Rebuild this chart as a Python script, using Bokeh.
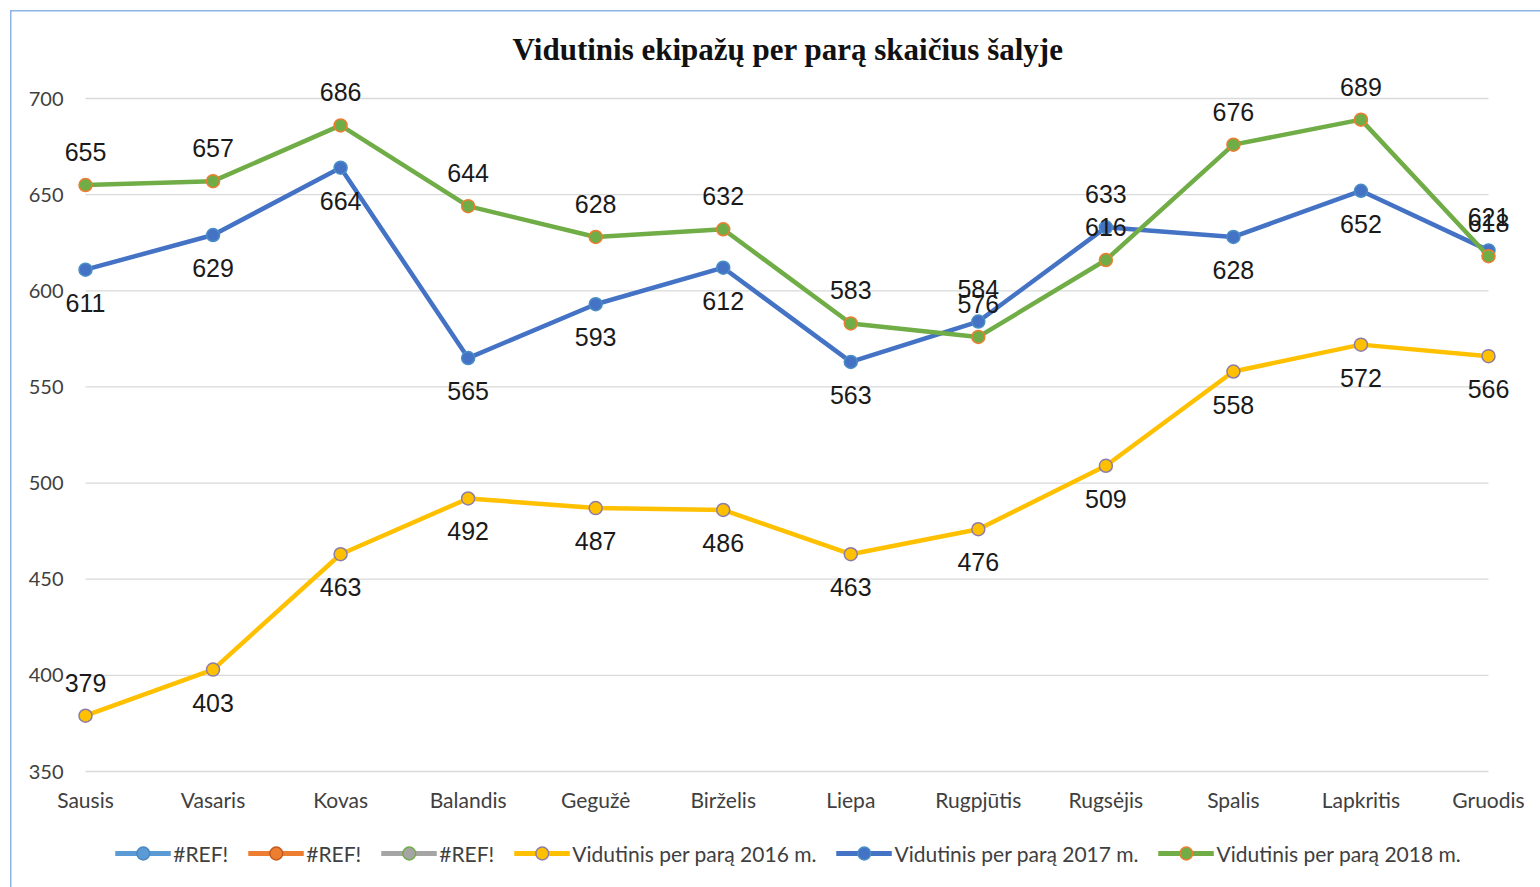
from bokeh.plotting import figure
from bokeh.layouts import column
from bokeh.models import (ColumnDataSource, LabelSet, Legend, LegendItem, Range1d,
                          FixedTicker)
from bokeh.core.properties import value
from bokeh.embed import file_html
from bokeh.resources import INLINE

# ---------------- data ----------------
months = ["Sausis", "Vasaris", "Kovas", "Balandis", "Gegužė", "Birželis",
          "Liepa", "Rugpjūtis", "Rugsėjis", "Spalis", "Lapkritis", "Gruodis"]
v2016 = [379, 403, 463, 492, 487, 486, 463, 476, 509, 558, 572, 566]
v2017 = [611, 629, 664, 565, 593, 612, 563, 584, 633, 628, 652, 621]
v2018 = [655, 657, 686, 644, 628, 632, 583, 576, 616, 676, 689, 618]
y_ticks = [350, 400, 450, 500, 550, 600, 650, 700]
title_text = "Vidutinis ekipažų per parą skaičius šalyje"
name2016 = "Vidutinis per parą 2016 m."
name2017 = "Vidutinis per parą 2017 m."
name2018 = "Vidutinis per parą 2018 m."
ref_name = "#REF!"

# label placement (style): 1 = above point, -1 = below point
place2016 = [1, -1, -1, -1, -1, -1, -1, -1, -1, -1, -1, -1]
place2017 = [-1, -1, -1, -1, -1, -1, -1, 1, 1, -1, -1, 1]
place2018 = [1] * 12

# ---------------- layout ----------------
W = 1540
H_MAIN, H_LEG = 819, 68
frame_left, frame_right = 63, 1512
frame_top, frame_bottom = 72, 775
x_first_px, x_last_px = 85, 1488        # px of first / last category
y_top_px, y_bot_px = 98, 771            # px of 700 / 350 gridlines

n = len(months)
ux = (x_last_px - x_first_px) / (n - 1)
x_start = -(x_first_px - frame_left) / ux
x_end = (n - 1) + (frame_right - x_last_px) / ux
uy = (y_bot_px - y_top_px) / (y_ticks[-1] - y_ticks[0])
y_start = y_ticks[0] - (frame_bottom - y_bot_px) / uy
y_end = y_ticks[-1] + (y_top_px - frame_top) / uy

p = figure(width=W, height=H_MAIN, output_backend="svg", toolbar_location=None,
           x_range=Range1d(x_start, x_end), y_range=Range1d(y_start, y_end),
           min_border_left=frame_left, min_border_right=W - frame_right,
           min_border_top=frame_top, min_border_bottom=H_MAIN - frame_bottom,
           title=title_text)
p.outline_line_color = None
p.background_fill_color = None
p.border_fill_color = None
p.xgrid.visible = False
p.ygrid.visible = False

p.title.align = "center"
p.title.text_font = "Liberation Serif"
p.title.text_font_style = "bold"
p.title.text_font_size = "31px"
p.title.text_color = "#111111"
p.title.standoff = 11

xs = list(range(n))

# grid lines spanning first..last category
p.segment(x0=[0] * len(y_ticks), x1=[n - 1] * len(y_ticks), y0=y_ticks, y1=y_ticks,
          line_color="#d9d9d9", line_width=1.3)

# axes
p.xaxis.ticker = FixedTicker(ticks=xs)
p.xaxis.major_label_overrides = {i: m for i, m in enumerate(months)}
p.yaxis.ticker = FixedTicker(ticks=y_ticks)
for ax in (p.xaxis[0], p.yaxis[0]):
    ax.axis_line_color = None
    ax.major_tick_line_color = None
    ax.minor_tick_line_color = None
    ax.major_tick_out = 0
    ax.major_tick_in = 0
    ax.major_label_text_font = "Lato"
    ax.major_label_text_color = "#404040"
p.xaxis.major_label_text_font_size = "21px"
p.yaxis.major_label_text_font_size = "20px"
p.xaxis.major_label_standoff = 11
p.yaxis.major_label_standoff = 0

series = [
    (v2016, place2016, "#FFC000", "#FFC000", "#8E7CA8"),
    (v2017, place2017, "#4472C4", "#4472C4", "#4A8EC6"),
    (v2018, place2018, "#70AD47", "#70AD47", "#ED7D31"),
]
for vals, place, lc, fc, oc in series:
    src = ColumnDataSource(dict(x=xs, y=vals, t=[str(v) for v in vals],
                                off=[33 * k for k in place]))
    p.line("x", "y", source=src, line_color=lc, line_width=4.5)
    p.scatter("x", "y", source=src, size=13, fill_color=fc, line_color=oc, line_width=1.5)
    p.add_layout(LabelSet(x="x", y="y", text="t", source=src, y_offset="off",
                          text_align="center", text_baseline="middle",
                          text_font=value("Liberation Sans"), text_font_size=value("25px"),
                          text_color="#1a1a1a"))

# ---------------- legend strip ----------------
lg = figure(width=W, height=H_LEG, output_backend="svg", toolbar_location=None,
            x_range=Range1d(0, 1), y_range=Range1d(0, 1),
            min_border_left=30, min_border_right=0, min_border_top=0, min_border_bottom=0)
lg.axis.visible = False
lg.grid.visible = False
lg.outline_line_color = None
lg.background_fill_color = None
lg.border_fill_color = None

nan = float("nan")
legend_styles = [
    (ref_name, "#5B9BD5", "#5B9BD5", "#4A87C0"),
    (ref_name, "#ED7D31", "#ED7D31", "#C55A1A"),
    (ref_name, "#A5A5A5", "#A5A5A5", "#70AD47"),
    (name2016, "#FFC000", "#FFC000", "#8E7CA8"),
    (name2017, "#4472C4", "#4472C4", "#4A8EC6"),
    (name2018, "#70AD47", "#70AD47", "#ED7D31"),
]
items = []
for label, lc, fc, oc in legend_styles:
    dummy = ColumnDataSource(dict(x=[nan], y=[nan]))
    l = lg.line("x", "y", source=dummy, line_color=lc, line_width=5)
    s = lg.scatter("x", "y", source=dummy, size=13, fill_color=fc, line_color=oc, line_width=1.5)
    items.append(LegendItem(label=label, renderers=[l, s]))

legend = Legend(items=items, orientation="horizontal", location="center")
legend.label_text_font = "Lato"
legend.label_text_font_size = "21px"
legend.label_text_color = "#404040"
legend.glyph_width = 56
legend.glyph_height = 32
legend.label_standoff = 3
legend.spacing = 19
legend.padding = 0
legend.margin = 0
legend.border_line_color = None
legend.background_fill_alpha = 0
lg.add_layout(legend, "center")

page = column(p, lg, spacing=0, styles={
    "background": "linear-gradient(#8DB4E2, #8DB4E2) 10px 10px / 1.5px 100% no-repeat, "
                  "linear-gradient(#8DB4E2, #8DB4E2) 10px 10px / 100% 1.5px no-repeat",
})

open("out.html", "w").write(file_html(page, INLINE))
